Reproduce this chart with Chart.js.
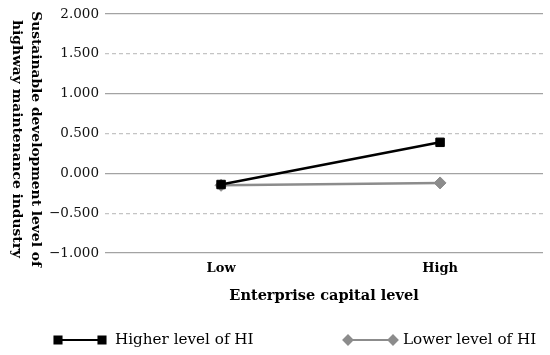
<!DOCTYPE html>
<html>
<head>
<meta charset="utf-8">
<script src="https://cdn.jsdelivr.net/npm/chart.js@4.4.0/dist/chart.umd.min.js"></script>
<style>
  html, body { margin: 0; padding: 0; background: #fff; }
  #wrap { width: 550px; height: 355px; position: relative; }
</style>
</head>
<body>
<div id="wrap"><canvas id="c"></canvas></div>
<script>
// categories and series
const categories = ['Low', 'High'];
const higherHI = [-0.14, 0.39];
const lowerHI = [-0.15, -0.12];
const seriesNames = ['Higher level of HI', 'Lower level of HI'];
const yTicks = [-1, -0.5, 0, 0.5, 1, 1.5, 2];
const yTickLabels = ['\u22121.000', '\u22120.500', '0.000', '0.500', '1.000', '1.500', '2.000'];
const yTitle = ['Sustainable development level of', 'highway maintenance industry'];
const xTitle = 'Enterprise capital level';

const SERIF = "'DejaVu Serif', serif";

// y title reads top to bottom, so chart.js' own title can't do it
const yTitlePlugin = {
    id: 'yTitle',
    afterDraw(chart) {
        const ctx = chart.ctx;
        ctx.save();
        ctx.translate(36, 139);
        ctx.rotate(Math.PI / 2);
        ctx.font = 'bold 13.8px ' + SERIF;
        ctx.fillStyle = '#000';
        ctx.textAlign = 'center';
        ctx.textBaseline = 'middle';
        ctx.fillText(yTitle[0], 0, 0);
        ctx.fillText(yTitle[1], 0, 19);
        ctx.restore();
    }
};

// legend: line with a marker at each end
const legendPlugin = {
    id: 'lineLegend',
    afterDraw(chart) {
        const ctx = chart.ctx;
        const items = [
            { x0: 58, x1: 102, tx: 115, ds: chart.data.datasets[0] },
            { x0: 348, x1: 393, tx: 403, ds: chart.data.datasets[1] }
        ];
        const y = 340;
        items.forEach(it => {
            ctx.save();
            ctx.strokeStyle = it.ds.borderColor;
            ctx.lineWidth = 2;
            ctx.beginPath();
            ctx.moveTo(it.x0, y);
            ctx.lineTo(it.x1, y);
            ctx.stroke();
            ctx.fillStyle = it.ds.pointBackgroundColor;
            ctx.strokeStyle = it.ds.pointBorderColor;
            const opts = { pointStyle: it.ds.pointStyle, radius: it.ds.pointStyle === 'rect' ? 5 : 4.5, rotation: 0, borderWidth: 1 };
            Chart.helpers.drawPoint(ctx, opts, it.x0, y);
            Chart.helpers.drawPoint(ctx, opts, it.x1, y);
            ctx.fillStyle = '#000';
            ctx.font = '15.2px ' + SERIF;
            ctx.textBaseline = 'middle';
            ctx.textAlign = 'left';
            ctx.fillText(it.ds.label, it.tx, y);
            ctx.restore();
        });
    }
};

new Chart(document.getElementById('c'), {
    type: 'line',
    data: {
        datasets: [
            {
                label: seriesNames[0],
                data: higherHI.map((v, i) => ({ x: i, y: v })),
                borderColor: '#000000',
                borderWidth: 2.5,
                pointStyle: 'rect',
                pointRadius: 6,
                pointBackgroundColor: '#000000',
                pointBorderColor: '#000000',
                pointBorderWidth: 1,
                tension: 0
            },
            {
                label: seriesNames[1],
                data: lowerHI.map((v, i) => ({ x: i, y: v })),
                borderColor: '#8c8c8c',
                borderWidth: 2.5,
                pointStyle: 'rectRot',
                pointRadius: 6,
                pointBackgroundColor: '#8c8c8c',
                pointBorderColor: '#8c8c8c',
                pointBorderWidth: 1,
                tension: 0
            }
        ]
    },
    options: {
        responsive: true,
        maintainAspectRatio: false,
        animation: false,
        layout: { padding: { top: 11, right: 5, left: 0, bottom: 50 } },
        plugins: {
            legend: { display: false },
            tooltip: { enabled: false }
        },
        scales: {
            x: {
                type: 'linear',
                min: -0.53,
                max: 1.47,
                afterBuildTicks: s => { s.ticks = categories.map((c, i) => ({ value: i })); },
                afterFit: s => { s.height = 52; },
                grid: { display: false, drawTicks: false },
                border: { display: false },
                ticks: {
                    padding: 8,
                    color: '#000',
                    font: { family: SERIF, size: 13, weight: 'bold' },
                    callback: v => categories[v]
                },
                title: {
                    display: true,
                    text: xTitle,
                    color: '#000',
                    font: { family: SERIF, size: 14.5, weight: 'bold' },
                    padding: { top: 0, bottom: 0 }
                }
            },
            y: {
                min: -1,
                max: 2,
                afterBuildTicks: s => { s.ticks = yTicks.map(v => ({ value: v })); },
                afterFit: s => { s.width = 105; },
                grid: {
                    drawTicks: false,
                    lineWidth: 1.3,
                    color: c => (c.tick && Math.abs(c.tick.value % 1) > 0.01) ? '#c4c4c4' : '#a3a3a3'
                },
                border: {
                    display: false,
                    dash: c => (c.tick && Math.abs(c.tick.value % 1) > 0.01) ? [4, 3] : []
                },
                ticks: {
                    padding: 6,
                    color: '#111',
                    font: { family: SERIF, size: 13.5 },
                    callback: (v, i) => yTickLabels[yTicks.indexOf(v)]
                }
            }
        }
    },
    plugins: [yTitlePlugin, legendPlugin]
});
</script>
</body>
</html>
